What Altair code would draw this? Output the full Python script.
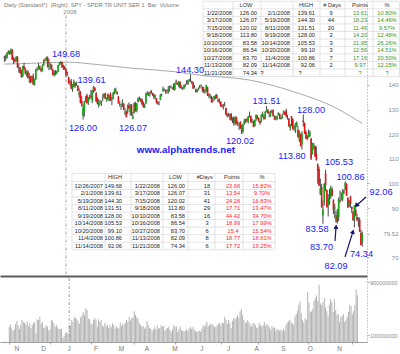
import json
import numpy as np
import pandas as pd
import altair as alt

# ------------------------------------------------------------------ data
HOLIDAYS = ["2007-11-22", "2007-12-25", "2008-01-01", "2008-01-21", "2008-02-18",
            "2008-03-21", "2008-05-26", "2008-07-04", "2008-09-01"]
START, END = "2007-10-24", "2008-11-21"

opens = [
    151.5, 151.1, 150.9, 153.0, 153.6, 152.6,
    154.4, 150.3, 150.5, 149.7, 151.5, 147.1, 147.0, 144.9, 143.4, 147.6, 146.6, 144.6, 145.4, 142.8, 143.5, 141.2, 143.6, 140.2, 142.3, 146.4, 146.5,
    147.6, 146.7, 145.8, 148.0, 150.2, 150.0, 151.1, 147.3, 148.2, 148.3, 146.3, 144.1, 145.0, 144.8, 145.5, 148.0, 149.1, 149.3, 147.1, 147.4,
    146.3, 144.2, 143.2, 141.3, 141.5, 138.5, 139.4, 140.6, 140.4, 139.7, 136.1, 137.0, 133.4, 127.5, 129.2, 134.1, 135.7, 132.9, 135.1, 135.6, 133.6,
    137.8, 138.9, 136.6, 133.9, 131.5, 132.7, 132.9, 134.3, 135.2, 136.4, 133.8, 136.2, 133.6, 136.3, 134.2, 134.8, 136.3, 137.0, 137.0, 135.3,
    132.5, 131.9, 132.4, 132.4, 128.5, 129.0, 129.0, 131.8, 128.8, 132.0, 126.4, 128.7, 132.8, 129.6, 133.1, 134.6, 134.3, 134.1, 132.7, 131.0,
    132.6, 136.6, 135.7, 136.8, 137.6, 136.2, 136.1, 134.9, 134.5, 132.9, 132.9, 133.9, 136.0, 137.5, 138.0, 138.0, 137.4, 137.5, 138.6, 139.2, 138.7, 139.0,
    138.1, 141.4, 140.6, 139.7, 141.1, 139.1, 138.3, 138.6, 140.1, 140.5, 140.4, 142.3, 142.3, 141.4, 140.9, 138.8, 138.4, 137.2, 138.4, 138.7, 139.7,
    139.2, 138.4, 137.0, 137.5, 139.0, 136.1, 134.8, 135.1, 133.6, 134.5, 134.8, 135.9, 134.0, 133.3, 133.2, 131.6, 131.2, 131.4, 130.7, 127.8, 127.8,
    126.5, 128.4, 126.2, 126.6, 124.4, 127.0, 124.3, 123.3, 125.0, 121.9, 121.1, 124.3, 125.3, 126.3, 125.2, 127.3, 127.3, 125.1, 125.2, 123.3, 126.2, 127.1,
    126.5, 125.2, 125.1, 127.7, 127.3, 126.4, 129.0, 129.7, 128.1, 127.3, 128.9, 129.7, 126.9, 126.7, 126.0, 127.7, 128.3, 126.3, 126.5, 128.2, 129.0,
    129.6, 126.9, 126.3, 122.4, 127.3, 126.0, 122.9, 121.2, 123.4, 121.7, 117.6, 119.9, 115.9, 125.6, 124.6, 120.9, 119.1, 118.7, 119.2, 118.3, 111.9,
    114.8, 115.1, 112.1, 107.7, 105.9, 95.5, 98.5, 87.0, 92.6, 104.0, 97.2, 91.0, 92.8, 94.6, 97.5, 93.2, 89.8, 84.5, 86.9, 86.3, 93.1, 94.9, 93.6,
    96.8, 97.6, 99.8, 94.0, 91.3, 94.7, 90.4, 88.3, 85.6, 89.1, 86.2, 85.6, 85.1, 79.8, 76.2,
]
highs = [
    151.9, 152.4, 153.4, 154.2, 153.9, 154.9,
    154.5, 151.4, 150.9, 151.7, 151.7, 148.5, 147.3, 146.2, 147.8, 149.0, 147.0, 145.8, 146.1, 144.8, 143.6, 143.9, 144.7, 142.6, 146.6, 147.3, 148.9,
    147.9, 146.9, 148.4, 150.4, 150.9, 151.6, 151.6, 150.6, 148.9, 148.3, 146.4, 145.8, 146.1, 145.9, 148.1, 149.3, 149.68, 149.4, 148.2, 147.7,
    146.9, 145.4, 143.4, 142.2, 142.5, 140.5, 142.2, 141.1, 141.4, 139.9, 138.6, 137.6, 135.5, 132.1, 133.6, 135.6, 136.5, 135.0, 136.0, 138.0, 138.1,
    139.61, 139.2, 137.2, 135.0, 134.3, 133.7, 133.7, 136.2, 136.7, 136.9, 134.9, 136.6, 136.0, 137.0, 135.0, 137.2, 138.6, 138.9, 137.4, 135.5,
    133.3, 132.3, 134.2, 132.6, 130.6, 129.7, 132.0, 132.9, 132.3, 132.2, 129.1, 132.9, 133.2, 132.6, 135.0, 135.3, 134.7, 134.5, 133.2, 132.4,
    136.9, 137.5, 137.1, 137.4, 138.0, 136.9, 136.6, 136.1, 134.7, 133.5, 133.4, 136.3, 136.6, 139.4, 138.6, 138.1, 138.2, 139.6, 139.7, 139.9, 139.3, 140.6,
    140.9, 142.2, 141.0, 141.6, 141.6, 139.9, 139.2, 140.2, 140.5, 142.0, 142.1, 142.5, 144.30, 141.7, 141.4, 139.9, 138.5, 138.3, 139.1, 140.0, 140.3,
    139.4, 139.3, 138.3, 140.1, 139.3, 136.6, 136.4, 135.6, 135.0, 135.6, 136.1, 136.4, 134.6, 134.6, 133.4, 132.2, 132.3, 133.1, 130.8, 128.5, 128.7,
    128.3, 128.5, 126.9, 127.3, 127.2, 127.2, 125.4, 124.7, 125.3, 123.8, 124.3, 126.3, 126.2, 126.5, 127.4, 129.2, 127.6, 126.3, 125.5, 126.0, 128.0, 127.8,
    126.8, 125.6, 128.1, 129.2, 128.0, 129.4, 131.51, 130.2, 129.2, 129.6, 130.0, 130.1, 127.6, 127.4, 127.6, 128.9, 128.4, 127.2, 128.3, 129.7, 129.2,
    130.4, 127.8, 126.6, 124.2, 127.4, 126.6, 123.6, 124.6, 125.2, 123.2, 121.5, 120.4, 121.2, 128.00, 124.8, 121.6, 119.6, 121.9, 121.5, 118.4, 116.4,
    116.6, 115.4, 115.0, 108.1, 106.8, 101.9, 99.8, 93.0, 100.1, 105.53, 97.5, 95.6, 97.9, 99.10, 98.5, 93.6, 91.7, 88.9, 89.6, 94.3, 97.1, 96.3, 97.7,
    97.6, 100.86, 100.1, 94.5, 93.2, 95.0, 90.6, 88.9, 91.2, 92.06, 87.6, 86.3, 86.1, 81.1, 80.4,
]
lows = [
    149.4, 149.7, 150.8, 152.6, 152.2, 152.4,
    150.1, 148.6, 149.1, 149.6, 146.9, 145.0, 144.6, 142.9, 143.3, 146.2, 144.2, 143.4, 142.6, 140.9, 140.6, 141.0, 140.0, 139.8, 142.1, 145.6, 146.2,
    146.1, 145.2, 145.5, 147.8, 149.6, 149.9, 147.1, 146.0, 146.4, 146.0, 143.8, 143.4, 144.0, 144.3, 145.3, 147.9, 148.3, 146.9, 146.1, 146.1,
    143.2, 143.6, 140.6, 139.8, 138.3, 137.2, 139.0, 138.9, 139.7, 137.5, 134.9, 132.5, 131.2, 126.00, 127.1, 133.0, 132.5, 131.9, 134.0, 134.4, 132.6,
    136.8, 137.5, 133.2, 132.1, 130.8, 132.0, 131.5, 133.5, 134.6, 134.3, 133.2, 133.8, 133.3, 133.5, 131.8, 134.1, 136.2, 136.9, 136.0, 132.4,
    131.2, 129.9, 131.0, 129.9, 127.9, 126.9, 128.3, 130.3, 127.6, 127.4, 126.07, 128.5, 129.2, 128.9, 132.9, 133.7, 133.0, 131.9, 130.8, 130.7,
    132.2, 135.7, 135.5, 135.3, 136.3, 135.6, 134.4, 134.1, 132.5, 132.0, 131.7, 133.8, 135.3, 137.2, 137.6, 136.4, 136.5, 136.5, 137.3, 138.8, 138.1, 137.9,
    137.7, 140.1, 140.0, 139.2, 138.6, 138.4, 137.9, 138.3, 139.1, 140.2, 140.0, 141.3, 141.2, 140.3, 138.4, 138.6, 137.0, 136.9, 137.7, 138.6, 139.3,
    137.0, 136.8, 136.4, 137.1, 135.5, 134.8, 134.4, 132.9, 132.8, 133.6, 134.2, 134.5, 133.0, 132.4, 131.2, 130.9, 130.0, 131.3, 127.8, 126.8, 127.2,
    125.8, 125.6, 124.5, 123.5, 123.6, 124.0, 123.3, 121.7, 122.2, 120.02, 120.3, 123.8, 124.5, 124.8, 124.3, 126.8, 124.7, 124.6, 122.9, 123.0, 125.3, 126.0,
    124.8, 123.8, 124.9, 126.9, 125.9, 126.1, 128.9, 128.3, 126.9, 127.0, 128.6, 127.1, 125.8, 125.6, 125.9, 127.6, 126.1, 125.9, 126.4, 128.0, 127.8,
    126.7, 125.9, 123.1, 121.4, 123.2, 121.9, 121.4, 120.5, 122.9, 118.7, 116.8, 115.1, 113.80, 123.1, 120.2, 118.2, 117.5, 118.6, 118.9, 109.5, 111.8,
    113.7, 110.8, 109.3, 99.9, 99.0, 95.3, 90.1, 83.58, 91.0, 96.8, 90.2, 86.54, 91.3, 93.7, 94.8, 87.5, 85.8, 84.0, 83.70, 84.7, 92.2, 93.0, 92.7,
    95.6, 97.1, 94.9, 90.0, 90.3, 90.1, 87.9, 84.8, 82.09, 86.6, 84.6, 82.4, 80.2, 74.8, 74.34,
]
closes = [
    151.1, 150.9, 153.0, 153.6, 152.6, 154.4,
    150.3, 150.5, 149.7, 151.5, 147.1, 147.0, 144.9, 143.4, 147.6, 146.6, 144.6, 145.4, 142.8, 143.5, 141.2, 143.6, 140.2, 142.3, 146.4, 146.5, 147.6,
    146.7, 145.8, 148.0, 150.2, 150.0, 151.1, 147.3, 148.2, 148.3, 146.3, 144.1, 145.0, 144.8, 145.5, 148.0, 149.1, 149.3, 147.1, 147.4, 146.3,
    144.2, 144.2, 140.7, 141.1, 138.5, 140.4, 141.5, 139.6, 141.1, 137.6, 136.8, 132.8, 132.0, 130.6, 133.4, 134.7, 132.6, 134.9, 135.7, 135.1, 137.4,
    139.1, 137.7, 133.3, 132.2, 133.3, 132.7, 133.5, 134.4, 136.4, 134.4, 134.6, 134.3, 135.6, 133.9, 134.9, 136.8, 137.9, 137.8, 136.3, 132.6,
    132.6, 132.2, 132.9, 129.9, 128.8, 126.9, 131.6, 130.4, 131.1, 128.3, 127.2, 132.6, 129.3, 132.5, 134.5, 134.8, 133.6, 132.1, 131.0, 131.8,
    136.5, 136.3, 136.4, 136.5, 136.8, 136.0, 135.0, 135.6, 132.8, 132.3, 132.9, 136.0, 136.1, 138.5, 138.3, 137.1, 137.5, 138.4, 139.3, 139.1, 138.6, 138.1,
    140.5, 140.9, 140.3, 141.4, 138.8, 139.3, 138.4, 139.9, 139.8, 140.4, 141.9, 142.1, 142.2, 140.9, 138.6, 139.0, 137.1, 138.1, 138.6, 139.3, 139.5,
    138.1, 137.3, 137.2, 139.9, 135.6, 135.7, 135.3, 133.0, 133.5, 135.5, 135.6, 134.6, 133.3, 133.8, 131.3, 131.3, 130.9, 131.7, 127.8, 127.3, 127.5,
    128.0, 125.6, 125.8, 124.7, 126.9, 124.0, 124.8, 123.5, 122.3, 121.0, 124.0, 125.5, 125.6, 125.5, 127.2, 127.7, 124.8, 125.3, 122.9, 125.8, 127.9, 126.2,
    125.5, 124.4, 128.0, 128.4, 126.1, 129.1, 130.0, 128.5, 128.1, 128.8, 129.3, 127.4, 126.2, 127.0, 127.3, 128.7, 126.2, 126.7, 127.7, 129.6, 127.8,
    127.3, 127.0, 123.2, 123.8, 126.3, 122.0, 122.7, 124.4, 124.7, 118.8, 120.9, 115.1, 120.2, 125.0, 120.2, 118.3, 118.1, 120.4, 120.8, 110.1, 116.1,
    115.6, 110.9, 109.4, 105.2, 99.1, 98.0, 90.5, 89.4, 99.8, 99.3, 90.3, 94.1, 93.6, 98.0, 95.0, 89.2, 90.3, 87.2, 84.4, 93.6, 92.6, 95.0, 96.8,
    96.2, 100.2, 95.0, 90.3, 92.8, 91.6, 89.5, 85.0, 91.0, 87.0, 85.0, 85.6, 80.4, 75.0, 79.52,
]
volumes_m = [
    230, 260, 200, 160, 190, 270,
    320, 250, 190, 260, 330, 300, 290, 260, 310, 240, 280, 210, 250, 290, 300, 130, 340, 330, 380, 270, 300,
    210, 220, 250, 230, 170, 190, 330, 320, 280, 230, 250, 220, 200, 190, 200, 60, 90, 130, 150, 120,
    260, 250, 330, 300, 380, 360, 340, 310, 270, 370, 400, 450, 400, 510, 480, 350, 340, 280, 260, 330, 360,
    330, 230, 340, 300, 330, 250, 230, 290, 240, 250, 210, 260, 220, 280, 250, 200, 240, 210, 200, 290,
    240, 270, 260, 290, 330, 300, 380, 320, 360, 370, 460, 410, 370, 350, 280, 250, 230, 240, 200, 220,
    310, 250, 210, 200, 160, 190, 220, 190, 250, 200, 210, 250, 230, 240, 170, 200, 210, 230, 180, 150, 190, 260,
    230, 240, 150, 190, 230, 180, 170, 160, 170, 190, 170, 200, 230, 200, 230, 180, 170, 150, 160, 170, 150,
    200, 250, 230, 260, 300, 240, 250, 270, 270, 250, 220, 230, 250, 270, 290, 250, 290, 280, 380, 330, 270,
    330, 290, 210, 320, 360, 340, 370, 400, 360, 460, 490, 400, 330, 280, 300, 330, 300, 250, 230, 280, 280, 250,
    210, 220, 280, 250, 230, 250, 300, 240, 270, 250, 220, 180, 240, 210, 220, 170, 200, 180, 170, 180, 160,
    200, 170, 260, 290, 310, 330, 300, 280, 260, 380, 420, 470, 560, 610, 430, 330, 290, 360, 330, 750, 590,
    450, 460, 500, 620, 660, 700, 620, 860, 580, 550, 600, 660, 520, 460, 380, 560, 650, 600, 450, 640, 480, 410, 420,
    300, 380, 390, 420, 300, 330, 380, 450, 550, 540, 420, 460, 550, 790, 700,
]

# 200-day moving average read at sample dates
ma_dates = ["2007-10-24", "2007-11-21", "2008-01-02", "2008-02-08", "2008-03-17", "2008-05-01",
            "2008-05-29", "2008-07-23", "2008-09-16", "2008-10-22", "2008-11-10", "2008-11-21"]
ma_values = [148.5, 148.8, 149.3, 148.2, 146.8, 145.4, 144.0, 142.0, 136.5, 131.2, 127.3, 124.4]

# pivot annotations (label text, position in trading-day index / price)
ann_text = ["149.68", "139.61", "126.00", "126.07", "144.30", "131.51", "120.02", "128.00",
            "113.80", "105.53", "100.86", "92.06", "83.58", "83.70", "82.09", "74.34"]
ann_i = [47, 66.5, 60, 98.1, 141.6, 200, 179.7, 233.9, 219.4, 255.2, 264, 287.3, 238.5, 241.9, 253, 272.4]
ann_p = [152.6, 142.0, 122.5, 122.5, 146.1, 133.5, 117.2, 129.8, 111.1, 108.7, 102.6, 96.5, 81.5, 74.1, 66.4, 71.3]

url_text = ["www.alphatrends.net"]
url_i, url_p = [138.5], [113.6]

arrow_tail_i = [252.2, 259.8, 275.8]
arrow_tail_p = [76.6, 70.1, 94.5]
arrow_tip_i = [253.0, 265.9, 268.6]
arrow_tip_p = [82.4, 80.4, 91.0]
arrow_angle = [4, 17, 228]

# upper table (LOW -> HIGH swings)
up_header = ["", "LOW", "", "HIGH", "# Days", "Points", "%"]
up_low_date = ["1/22/2008", "3/17/2008", "7/15/2008", "9/18/2008", "10/10/2008", "10/16/2008", "10/27/2008", "11/13/2008", "11/21/2008"]
up_low = ["126.00", "126.07", "120.02", "113.80", "83.58", "86.54", "83.70", "82.09", "74.34"]
up_high_date = ["2/1/2008", "5/19/2008", "8/11/2008", "9/19/2008", "10/14/2008", "10/20/2008", "11/4/2008", "11/14/2008", "?"]
up_high = ["139.61", "144.30", "131.51", "128.00", "105.53", "99.10", "100.86", "92.06", "?"]
up_days = ["9", "44", "20", "2", "3", "3", "7", "2", ""]
up_points = ["13.61", "18.23", "11.49", "14.20", "21.95", "12.56", "17.16", "9.97", "?"]
up_pct = ["10.80%", "14.46%", "9.57%", "12.48%", "26.26%", "14.51%", "20.50%", "12.15%", "?"]

# lower table (HIGH -> LOW swings)
lo_header = ["", "HIGH", "", "LOW", "#Days", "Points", "%"]
lo_high_date = ["12/26/2007", "2/1/2008", "5/19/2008", "8/11/2008", "9/19/2008", "10/14/2008", "10/20/2008", "11/4/2008", "11/14/2008"]
lo_high = ["149.68", "139.61", "144.30", "131.51", "128.00", "105.53", "99.10", "100.86", "92.06"]
lo_low_date = ["1/22/2008", "3/17/2008", "7/15/2008", "9/18/2008", "10/10/2008", "10/16/2008", "10/27/2008", "11/13/2008", "11/21/2008"]
lo_low = ["126.00", "126.07", "120.02", "113.80", "83.58", "86.54", "83.70", "82.09", "74.34"]
lo_days = ["18", "31", "41", "29", "16", "3", "6", "8", "6"]
lo_points = ["23.68", "13.54", "24.28", "17.71", "44.42", "18.99", "15.4", "18.77", "17.72"]
lo_pct = ["15.82%", "9.70%", "16.83%", "13.47%", "34.70%", "17.99%", "15.54%", "18.61%", "19.25%"]

title_text = "Daily (Standard*)\u00a0\u00a0(Right)\u00a0\u00a0SPY - SPDR TR UNIT SER 1\u00a0\u00a0Bar\u00a0\u00a0Volume"

# ------------------------------------------------------------------ styles / layout
FONT = "Liberation Sans"
GREEN, RED = "#18a418", "#e21414"
BLUE, NAVY = "#2020ff", "#14146e"
W, H_TOP, H_VOL = 367, 276, 64
X_DOM = [-3.34, 276.6]
Y_DOM = [62.36, 174.55]
V_DOM = [0, 960e6]
MONTH_LABEL_V = -110e6   # month letters sit just under the volume baseline

UP_HEAD_X = [None, 246, None, 306, 332, 360, 387]
UP_COL_X = [232, 257, 290, 315, 331, 360, 387]
UP_Q_X = {2: 262, 3: 300}
UP_Y_HEAD, UP_Y0, UP_DY = 5.0, 12.7, 7.5
UP_GRID_X = [203, 233, 261, 293, 320, 345, 373, 399.5]

LO_HEAD_X = [None, 115, None, 175.5, 204.7, 232, 262]
LO_COL_X = [103, 122, 160, 185, 207, 233, 262]
LO_Y_HEAD, LO_Y0, LO_DY = 177.3, 185.7, 7.53
LO_GRID_X = [72, 105, 131, 163, 188, 215, 243, 275]
COL_ALIGN = ["right", "right", "right", "right", "center", "center", "center"]

# ------------------------------------------------------------------ frames
dates = pd.bdate_range(START, END, freq="C", holidays=HOLIDAYS)
n = len(dates)
lens = [len(opens), len(highs), len(lows), len(closes), len(volumes_m)]
if any(L != n for L in lens):
    raise ValueError(f"length mismatch: dates={n}, arrays={lens}")

px = pd.DataFrame({"i": np.arange(n), "o": opens, "h": highs, "l": lows, "c": closes,
                   "v": np.array(volumes_m, dtype=float) * 1e6})
px["color"] = np.where(px["c"] >= px["o"], GREEN, RED)
date_idx = {d.strftime("%Y-%m-%d"): k for k, d in enumerate(dates)}

ma = pd.DataFrame({"i": [date_idx[d] for d in ma_dates], "v": ma_values})
ann = pd.DataFrame({"t": ann_text, "i": ann_i, "p": ann_p})
url = pd.DataFrame({"t": url_text, "i": url_i, "p": url_p})
arr = pd.DataFrame({"i0": arrow_tail_i, "p0": arrow_tail_p, "i1": arrow_tip_i,
                    "p1": arrow_tip_p, "a": arrow_angle})
jan = date_idx["2008-01-02"]
vline = pd.DataFrame({"i": [jan], "top": [168.3], "bot": [Y_DOM[0]]})
yr = pd.DataFrame({"i": [jan], "p": [169.7], "t": ["2008"]})

# month labels and weekly ticks
month_start, month_letter = [], []
for k in range(1, n):
    if dates[k].month != dates[k - 1].month:
        month_start.append(k)
        month_letter.append(dates[k].strftime("%b")[0])
months = pd.DataFrame({"i": month_start, "t": month_letter, "v": [MONTH_LABEL_V] * len(month_start)})
week_start = [k for k in range(n) if k == 0 or dates[k].weekday() < dates[k - 1].weekday()]
tick_vals = sorted(set(week_start) | set(month_start))

# tables -> cells in pixel space
cells, hl, vl = [], [], []


def add_table(header, columns, head_x, col_x, y_head, y0, dy, colors, grid_x, q_x=None):
    for c, h in enumerate(header):
        if h:
            cells.append(dict(x=head_x[c], y=y_head, t=h, color="#333333", align="center"))
    for c, col in enumerate(columns):
        for r, v in enumerate(col):
            if not v:
                continue
            if v == "?" and q_x and c in q_x:
                cells.append(dict(x=q_x[c], y=y0 + r * dy, t=v, color=colors[c], align="center"))
            else:
                cells.append(dict(x=col_x[c], y=y0 + r * dy, t=v, color=colors[c], align=COL_ALIGN[c]))
    nrow = len(columns[0])
    bounds = [y_head - 3.8, (y_head + y0) / 2] + [y0 + r * dy + dy / 2 for r in range(nrow)]
    for b in bounds:
        hl.append(dict(y=b, x1=grid_x[0], x2=grid_x[-1]))
    for g in grid_x:
        vl.append(dict(x=g, y1=bounds[0], y2=bounds[-1]))


add_table(up_header, [up_low_date, up_low, up_high_date, up_high, up_days, up_points, up_pct],
          UP_HEAD_X, UP_COL_X, UP_Y_HEAD, UP_Y0, UP_DY,
          ["#222", "#222", "#222", "#222", "#222", "#2f962f", "#2f962f"], UP_GRID_X, UP_Q_X)
add_table(lo_header, [lo_high_date, lo_high, lo_low_date, lo_low, lo_days, lo_points, lo_pct],
          LO_HEAD_X, LO_COL_X, LO_Y_HEAD, LO_Y0, LO_DY,
          ["#222", "#222", "#222", "#222", "#222", "#ff1a1a", "#ff1a1a"], LO_GRID_X)
cells.append(dict(x=4, y=5, t=title_text, color="#7a7a7a", align="left"))
cells_df = pd.DataFrame(cells)
hl_df = pd.DataFrame(hl)
vl_df = pd.DataFrame(vl)

# ------------------------------------------------------------------ scales
xs = alt.Scale(domain=X_DOM, nice=False, zero=False)
ys = alt.Scale(domain=Y_DOM, nice=False, zero=False)
vs = alt.Scale(domain=V_DOM, nice=False, zero=True)
pxs = alt.Scale(domain=[0, W], nice=False, zero=False)
pys = alt.Scale(domain=[0, H_TOP], nice=False, zero=False, reverse=True)

price_axis = alt.Axis(orient="right", values=[70, 79.52, 90, 100, 110, 120, 130, 140],
                      labelExpr="datum.value == 79.52 ? '79.52' : format(datum.value, 'd')",
                      labelAlign="right", labelPadding=29, tickSize=2, tickColor="#b0b0b0",
                      domainColor="#9a9a9a", domainDash=[1, 2], domainWidth=1,
                      labelColor="#8a8a8a", labelFontSize=6, labelFont=FONT,
                      labelBaseline="middle", title=None, grid=False)
top_x_axis = alt.Axis(orient="bottom", labels=False, ticks=False, domainColor="#5a5a5a",
                      domainWidth=2, title=None, grid=False)

# ------------------------------------------------------------------ price panel
ma_line = alt.Chart(ma).mark_line(color="#a9a9a9", strokeWidth=1, interpolate="monotone").encode(
    x=alt.X("i:Q", scale=xs, axis=None), y=alt.Y("v:Q", scale=ys, axis=None))
vrule = alt.Chart(vline).mark_rule(color="#8c8c8c", strokeWidth=0.8, strokeDash=[3, 2, 1, 2]).encode(
    x=alt.X("i:Q", scale=xs, axis=None), y=alt.Y("top:Q", scale=ys, axis=None), y2="bot:Q")
year_txt = alt.Chart(yr).mark_text(fontSize=6, color="#8a8a8a", dx=4, baseline="middle").encode(
    x=alt.X("i:Q", scale=xs, axis=None), y=alt.Y("p:Q", scale=ys, axis=None), text="t:N")
wicks = alt.Chart(px).mark_rule(color="#1a1a1a", strokeWidth=0.8).encode(
    x=alt.X("i:Q", scale=xs, axis=top_x_axis), y=alt.Y("l:Q", scale=ys, axis=price_axis), y2="h:Q")
bodies = alt.Chart(px).mark_rule(strokeWidth=1.6).encode(
    x=alt.X("i:Q", scale=xs, axis=None), y=alt.Y("o:Q", scale=ys, axis=None), y2="c:Q",
    color=alt.Color("color:N", scale=None))
ann_layer = alt.Chart(ann).mark_text(fontSize=9.2, color=BLUE, baseline="middle", align="center").encode(
    x=alt.X("i:Q", scale=xs, axis=None), y=alt.Y("p:Q", scale=ys, axis=None), text="t:N")
url_layer = alt.Chart(url).mark_text(fontSize=9.8, fontWeight="bold", color=BLUE, baseline="middle",
                                     align="center").encode(
    x=alt.X("i:Q", scale=xs, axis=None), y=alt.Y("p:Q", scale=ys, axis=None), text="t:N")
arr_lines = alt.Chart(arr).mark_rule(color=NAVY, strokeWidth=1.2).encode(
    x=alt.X("i0:Q", scale=xs, axis=None), x2="i1:Q", y=alt.Y("p0:Q", scale=ys, axis=None), y2="p1:Q")
arr_heads = alt.Chart(arr).mark_point(shape="triangle-up", filled=True, color=NAVY, size=26, opacity=1).encode(
    x=alt.X("i1:Q", scale=xs, axis=None), y=alt.Y("p1:Q", scale=ys, axis=None),
    angle=alt.Angle("a:Q", scale=None))

grid_h = alt.Chart(hl_df).mark_rule(color="#d2d2d2", strokeWidth=0.6).encode(
    x=alt.X("x1:Q", scale=pxs, axis=None), x2="x2:Q", y=alt.Y("y:Q", scale=pys, axis=None))
grid_v = alt.Chart(vl_df).mark_rule(color="#d2d2d2", strokeWidth=0.6).encode(
    x=alt.X("x:Q", scale=pxs, axis=None), y=alt.Y("y1:Q", scale=pys, axis=None), y2="y2:Q")


def cell_layer(align):
    return alt.Chart(cells_df).transform_filter(alt.datum.align == align).mark_text(
        fontSize=5.7, align=align, baseline="middle").encode(
        x=alt.X("x:Q", scale=pxs, axis=None), y=alt.Y("y:Q", scale=pys, axis=None),
        text="t:N", color=alt.Color("color:N", scale=None))


top = alt.layer(
    grid_h, grid_v, ma_line, vrule, year_txt, wicks, bodies, ann_layer, url_layer,
    arr_lines, arr_heads, cell_layer("right"), cell_layer("center"), cell_layer("left"),
).resolve_scale(x="independent", y="independent").properties(width=W, height=H_TOP)

# ------------------------------------------------------------------ volume panel
vol_axis = alt.Axis(orient="right", values=[1e8, 3e8, 5e8, 7e8, 9e8], format="d",
                    labelAlign="right", labelPadding=28, tickSize=2, tickColor="#b0b0b0",
                    domainColor="#9a9a9a", domainDash=[1, 2], labelColor="#8a8a8a",
                    labelFontSize=5.5, labelBaseline="middle", title=None, grid=False)
tick_axis = alt.Axis(orient="bottom", values=tick_vals, labels=False, tickSize=2,
                     tickColor="#a0a0a0", domainColor="#a0a0a0", title=None, grid=False)
vol_bars = alt.Chart(px).mark_bar(width=1.0, color="#b3b3b3").encode(
    x=alt.X("i:Q", scale=xs, axis=tick_axis), y=alt.Y("v:Q", scale=vs, axis=vol_axis))
vol_vrule = alt.Chart(vline).mark_rule(color="#8c8c8c", strokeWidth=0.8, strokeDash=[3, 2, 1, 2]).encode(
    x=alt.X("i:Q", scale=xs))
month_txt = alt.Chart(months).mark_text(fontSize=6.5, color="#777777", baseline="middle").encode(
    x=alt.X("i:Q", scale=xs), y=alt.Y("v:Q", scale=vs), text="t:N")
bottom = alt.layer(vol_bars, vol_vrule, month_txt).properties(width=W, height=H_VOL)

chart = (alt.vconcat(top, bottom, spacing=0)
         .properties(padding=0)
         .configure(font=FONT)
         .configure_view(stroke=None))
chart.save("out.html", embed_options={"renderer": "svg", "actions": False})
